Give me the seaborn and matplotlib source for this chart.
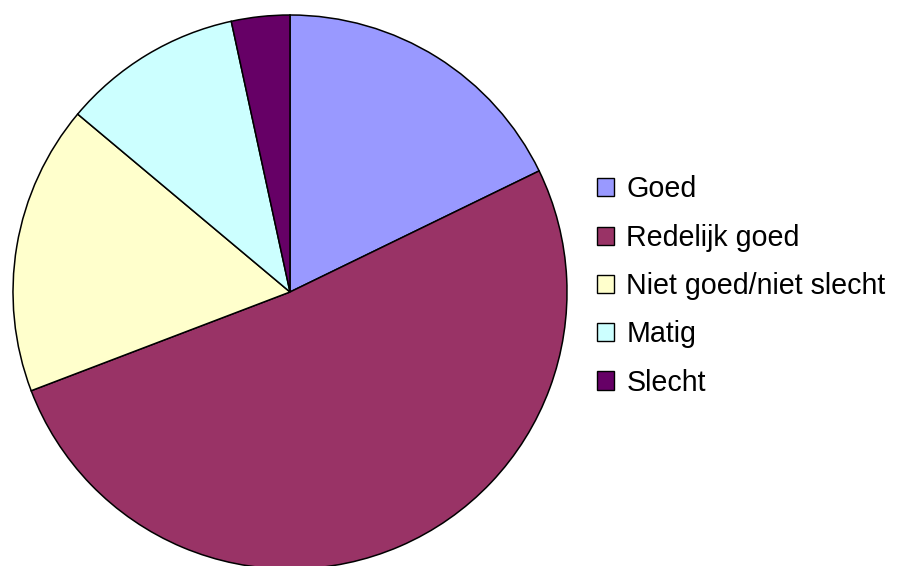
import matplotlib
matplotlib.use("Agg")
import matplotlib.pyplot as plt
import seaborn as sns
from matplotlib.patches import Patch

# Data (percent of the pie)
categories = ["Goed", "Redelijk goed", "Niet goed/niet slecht", "Matig", "Slecht"]
values = [17.8, 51.4, 16.9, 10.5, 3.4]
colors = ["#9999FF", "#993366", "#FFFFCC", "#CCFFFF", "#660066"]

sns.set_theme(style="white")
plt.rcParams["font.family"] = ["Liberation Sans", "DejaVu Sans"]
plt.rcParams["text.color"] = "black"

W, H = 904, 566
fig = plt.figure(figsize=(W / 100, H / 100), dpi=100)
fig.patch.set_facecolor("white")

# Pie centre and radius in pixels
cx, cy, r = 290, 292, 277
ax = fig.add_axes([(cx - r) / W, (H - cy - r) / H, 2 * r / W, 2 * r / H])
ax.pie(values, colors=colors, startangle=90, counterclock=False,
       wedgeprops={"edgecolor": "black", "linewidth": 1.1})
ax.set_xlim(-1, 1)
ax.set_ylim(-1, 1)
ax.set_aspect("equal")
ax.axis("off")

# Legend
handles = [Patch(facecolor=c, edgecolor="black", linewidth=1.0) for c in colors]
leg = fig.legend(handles, categories, loc="center left",
                 bbox_to_anchor=(597 / W, 1 - 286 / H),
                 frameon=False, fontsize=20.6, borderpad=0, borderaxespad=0,
                 handlelength=0.6, handleheight=0.6, handletextpad=0.42,
                 labelspacing=0.71)
for t in leg.get_texts():
    t.set_color("black")

fig.savefig("out.png", dpi=100, facecolor="white")
